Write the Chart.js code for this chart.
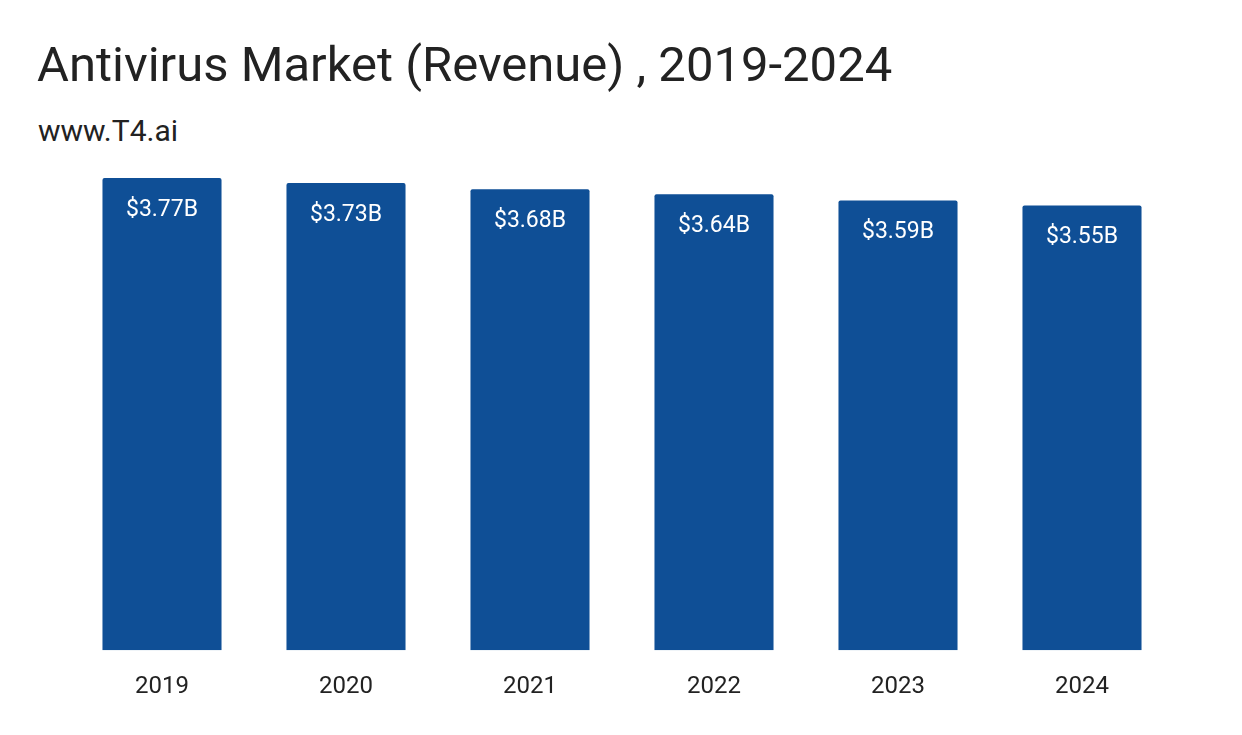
<!DOCTYPE html>
<html>
<head>
<meta charset="utf-8">
<script src="https://cdn.jsdelivr.net/npm/chart.js@4"></script>
<style>
  body { margin: 0; background: #fff; font-family: Roboto, sans-serif; }
  #wrap { position: relative; width: 1242px; height: 735px; }
  #title { position: absolute; left: 37px; top: 36px; font-size: 49px; color: #222; }
  #sub { position: absolute; left: 38px; top: 113px; font-size: 30px; color: #222; }
  canvas { position: absolute; left: 0; top: 0; }
</style>
</head>
<body>
<div id="wrap">
  <div id="title">Antivirus Market (Revenue) , 2019-2024</div>
  <div id="sub">www.T4.ai</div>
  <canvas id="c" width="1242" height="735"></canvas>
</div>
<script>
const years = ['2019', '2020', '2021', '2022', '2023', '2024'];
const revenue = [3.77, 3.73, 3.68, 3.64, 3.59, 3.55];
const barColor = '#0f4f96';

// value labels inside the top of each bar
const valueLabels = {
  id: 'valueLabels',
  afterDatasetsDraw(chart) {
    const ctx = chart.ctx;
    const meta = chart.getDatasetMeta(0);
    ctx.save();
    ctx.fillStyle = '#fff';
    ctx.font = '23px Roboto';
    ctx.textAlign = 'center';
    ctx.textBaseline = 'middle';
    meta.data.forEach((bar, i) => {
      ctx.fillText('$' + revenue[i].toFixed(2) + 'B', bar.x, bar.y + 32);
    });
    ctx.restore();
  }
};

new Chart(document.getElementById('c'), {
  type: 'bar',
  data: {
    labels: years,
    datasets: [{
      data: revenue,
      backgroundColor: barColor,
      borderRadius: 2,
      categoryPercentage: 1,
      barPercentage: 0.647
    }]
  },
  options: {
    responsive: false,
    animation: false,
    layout: { padding: { left: 70, right: 68, top: 178, bottom: 20 } },
    plugins: { legend: { display: false }, tooltip: { enabled: false } },
    scales: {
      x: {
        grid: { display: false },
        border: { display: false },
        ticks: { color: '#222', font: { family: 'Roboto', size: 24 }, padding: 14 }
      },
      y: { display: false, min: 0, max: 3.77 }
    }
  },
  plugins: [valueLabels]
});
</script>
</body>
</html>
